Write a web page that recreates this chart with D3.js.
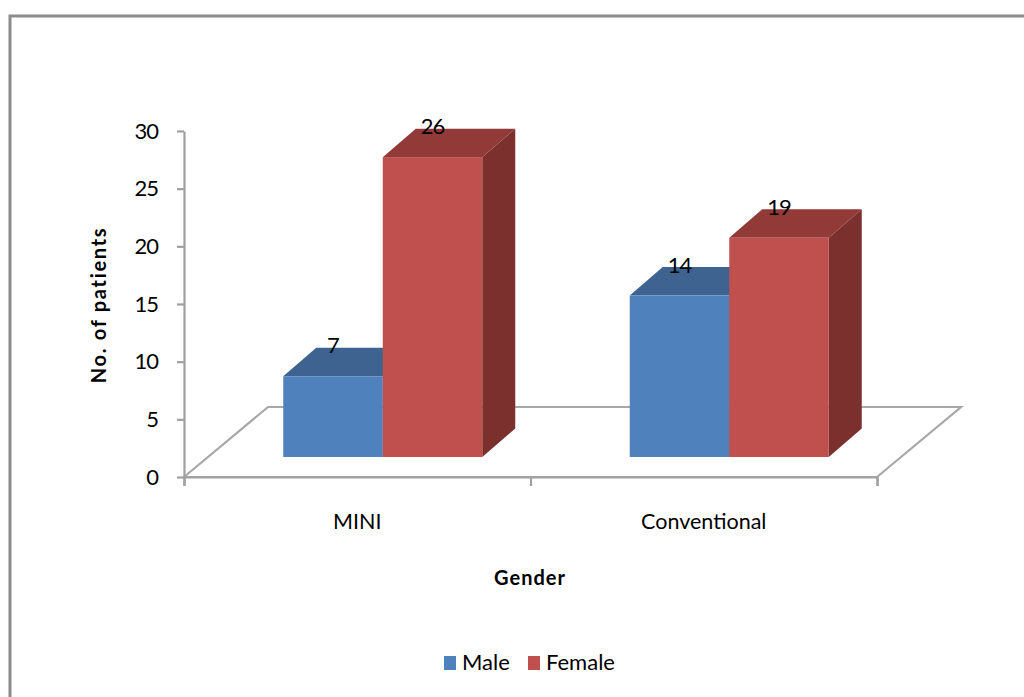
<!DOCTYPE html>
<html>
<head>
<meta charset="utf-8">
<script src="https://cdn.jsdelivr.net/npm/d3@7"></script>
<style>
  html, body { margin: 0; padding: 0; background: #fff; }
  svg { display: block; }
  text { font-family: Lato, "Open Sans", sans-serif; fill: #000; }
</style>
</head>
<body>
<svg id="chart" width="1024" height="697"></svg>
<script>
// Patients by gender for each technique
const categories = ["MINI", "Conventional"];
const seriesNames = ["Male", "Female"];
const maleValues = [7, 14];
const femaleValues = [26, 19];
const yTicks = [0, 5, 10, 15, 20, 25, 30];

const seriesValues = [maleValues, femaleValues];
const faceColors = ["#4f81bd", "#c0504d"];
const topColors = ["#3e6390", "#913a38"];
const sideColors = ["#345274", "#7b302e"];

const svg = d3.select("#chart");

// Outer chart frame, open on the right and at the bottom
svg.append("path")
  .attr("d", "M10,697V16H1024")
  .attr("fill", "none").attr("stroke", "#8c8c8c").attr("stroke-width", 3);

// Scales
const x0 = d3.scaleBand().domain(categories).range([184, 877]);
const y = d3.scaleLinear().domain([0, 30]).range([477, 131]);
const barWidth = 99.5;
const x1 = d3.scaleBand().domain(seriesNames).range([-barWidth, barWidth]);

// Oblique projection used for the floor and for the bar depth
const floorDx = 84, floorDy = -70;
const frontDx = 25.5, frontDy = -20;
const depthDx = 33, depthDy = -28.5;

// Floor plane
const [xMin, xMax] = x0.range();
const floor = [[xMin, y(0)], [xMin + floorDx, y(0) + floorDy], [xMax + floorDx, y(0) + floorDy], [xMax, y(0)]];
svg.append("polygon")
  .attr("points", floor.join(" "))
  .attr("fill", "#fff").attr("stroke", "#a8a8a8").attr("stroke-width", 2.2);

// Axes
const styleAxis = g => {
  g.selectAll(".domain").attr("stroke", "#a0a0a0").attr("stroke-width", 2.2);
  g.selectAll(".tick line").attr("stroke", "#a0a0a0").attr("stroke-width", 2.2);
};
svg.append("g")
  .attr("transform", `translate(${xMin},0)`)
  .call(d3.axisLeft(y).tickValues(yTicks).tickSize(7).tickPadding(19).tickSizeOuter(0))
  .call(styleAxis)
  .call(g => g.selectAll("text")
    .attr("font-size", 22)
    .attr("letter-spacing", -1)
    .style("font-family", "Lato, sans-serif")
    .attr("fill", "#000"));

// Category axis: tick marks at the band edges, labels centred in each band
const edges = [xMin, xMin + x0.bandwidth(), xMax];
svg.append("g")
  .attr("transform", `translate(0,${y(0)})`)
  .call(d3.axisBottom(d3.scaleLinear().domain([xMin, xMax]).range([xMin, xMax]))
    .tickValues(edges).tickSize(9).tickFormat(""))
  .call(styleAxis);
svg.append("g").selectAll("text")
  .data(categories).join("text")
  .attr("x", d => x0(d) + x0.bandwidth() / 2)
  .attr("y", 529)
  .attr("text-anchor", "middle")
  .attr("font-size", 21.5)
  .text(d => d);

// Bars: top and side faces first, then the front face
const barBase = y(0) + frontDy;
const barHeight = v => y(0) - y(v);
const bars = seriesNames.flatMap((name, s) =>
  categories.map((cat, c) => ({ name, s, cat, value: seriesValues[s][c] })));

const barGroups = svg.append("g").selectAll("g")
  .data(bars).join("g")
  .attr("transform", d => `translate(${x0(d.cat) + x0.bandwidth() / 2 + frontDx + x1(d.name)},${barBase})`);

barGroups.append("path")
  .attr("fill", d => sideColors[d.s])
  .attr("d", d => {
    const h = barHeight(d.value);
    return `M${barWidth},0V${-h}l${depthDx},${depthDy}V${depthDy}Z`;
  });
barGroups.append("path")
  .attr("fill", d => topColors[d.s])
  .attr("d", d => {
    const h = barHeight(d.value);
    return `M0,${-h}h${barWidth}l${depthDx},${depthDy}h${-barWidth}Z`;
  });
barGroups.append("rect")
  .attr("y", d => -barHeight(d.value))
  .attr("width", barWidth)
  .attr("height", d => barHeight(d.value))
  .attr("fill", d => faceColors[d.s]);

// Value labels sit on the top face
barGroups.append("text")
  .attr("x", barWidth / 2)
  .attr("y", d => -barHeight(d.value) - 23)
  .attr("text-anchor", "middle")
  .attr("font-size", 22)
  .attr("letter-spacing", -1)
  .text(d => d.value);

// Axis titles
svg.append("text")
  .attr("transform", "translate(106,305) rotate(-90)")
  .attr("text-anchor", "middle")
  .attr("font-size", 20).attr("font-weight", 700)
  .attr("letter-spacing", 1.7)
  .text("No. of patients");
svg.append("text")
  .attr("x", 530).attr("y", 585)
  .attr("text-anchor", "middle")
  .attr("font-size", 20).attr("font-weight", 700)
  .attr("letter-spacing", 1)
  .text("Gender");

// Legend
const legendX = [444, 528];
const legend = svg.append("g").selectAll("g")
  .data(seriesNames).join("g")
  .attr("transform", (d, i) => `translate(${legendX[i]},656)`);
legend.append("rect")
  .attr("width", 12).attr("height", 14)
  .attr("fill", (d, i) => faceColors[i]);
legend.append("text")
  .attr("x", 18).attr("y", 13.5)
  .attr("font-size", 22)
  .text(d => d);
</script>
</body>
</html>
